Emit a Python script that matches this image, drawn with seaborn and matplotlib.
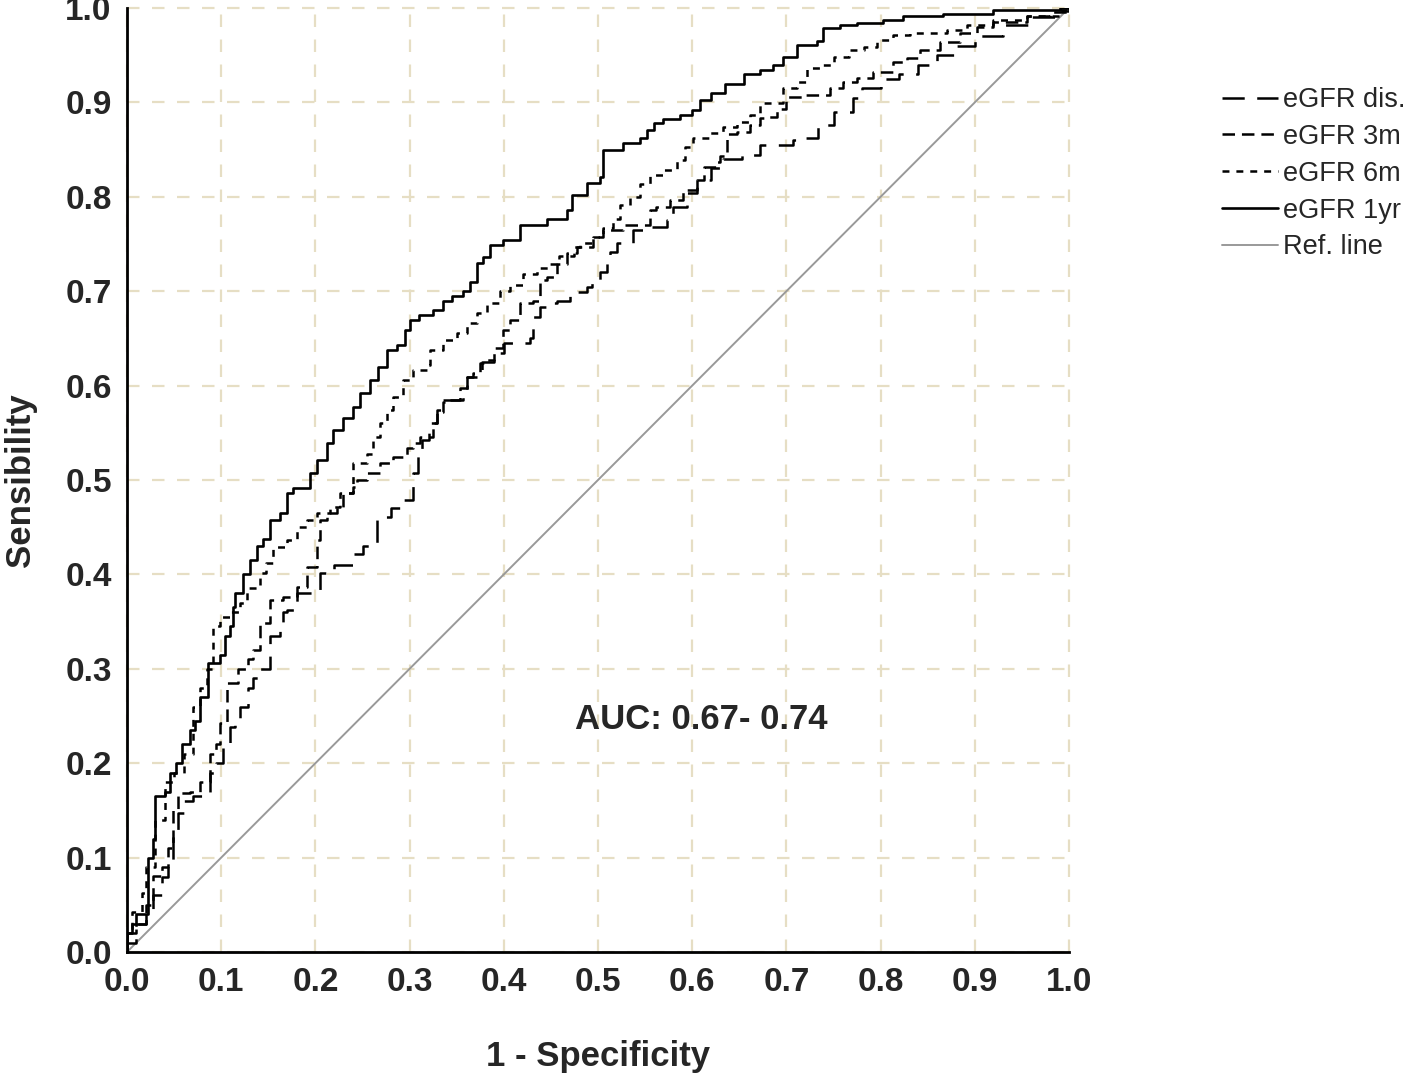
import numpy as np
import pandas as pd
import matplotlib
matplotlib.use("Agg")
import matplotlib.pyplot as plt
import seaborn as sns
from matplotlib.lines import Line2D

# ROC step points: (1 - specificity, sensitivity)
fpr_1yr = [0, 0, 0.005, 0.01, 0.02, 0.022, 0.028, 0.03, 0.04, 0.046, 0.052, 0.058, 0.067, 0.072, 0.077,
           0.086, 0.099, 0.104, 0.109, 0.112, 0.115, 0.123, 0.131, 0.138, 0.144, 0.152, 0.162, 0.17, 0.176,
           0.194, 0.202, 0.212, 0.219, 0.229, 0.24, 0.247, 0.258, 0.266, 0.276, 0.287, 0.295, 0.3, 0.31,
           0.325, 0.335, 0.345, 0.357, 0.364, 0.372, 0.378, 0.385, 0.399, 0.417, 0.446, 0.467, 0.472, 0.488,
           0.502, 0.505, 0.527, 0.545, 0.552, 0.559, 0.569, 0.587, 0.6, 0.608, 0.62, 0.635, 0.655, 0.672,
           0.686, 0.696, 0.711, 0.732, 0.739, 0.757, 0.775, 0.803, 0.824, 0.866, 0.919, 0.99, 1.0]
tpr_1yr = [0, 0.02, 0.03, 0.04, 0.04, 0.1, 0.12, 0.165, 0.17, 0.19, 0.2, 0.22, 0.235, 0.245, 0.27,
           0.306, 0.315, 0.335, 0.345, 0.365, 0.38, 0.4, 0.415, 0.43, 0.437, 0.458, 0.465, 0.486, 0.492,
           0.507, 0.521, 0.539, 0.553, 0.566, 0.577, 0.592, 0.606, 0.62, 0.638, 0.643, 0.659, 0.67, 0.675,
           0.68, 0.69, 0.695, 0.7, 0.71, 0.73, 0.736, 0.749, 0.754, 0.77, 0.777, 0.786, 0.802, 0.815,
           0.821, 0.85, 0.857, 0.862, 0.871, 0.878, 0.882, 0.887, 0.892, 0.903, 0.91, 0.92, 0.93, 0.934,
           0.94, 0.948, 0.961, 0.965, 0.979, 0.982, 0.984, 0.987, 0.992, 0.994, 0.998, 1.0, 1.0]

fpr_6m = [0, 0, 0.005, 0.016, 0.02, 0.03, 0.04, 0.05, 0.06, 0.07, 0.077, 0.085, 0.091, 0.099, 0.11,
          0.12, 0.127, 0.141, 0.148, 0.155, 0.17, 0.18, 0.191, 0.202, 0.215, 0.226, 0.24, 0.255, 0.261,
          0.269, 0.276, 0.282, 0.293, 0.304, 0.318, 0.322, 0.335, 0.35, 0.361, 0.372, 0.382, 0.396, 0.407,
          0.42, 0.435, 0.449, 0.459, 0.474, 0.481, 0.495, 0.505, 0.516, 0.523, 0.534, 0.545, 0.555, 0.569,
          0.584, 0.592, 0.601, 0.619, 0.633, 0.648, 0.661, 0.672, 0.696, 0.711, 0.722, 0.736, 0.75, 0.766,
          0.782, 0.796, 0.813, 0.831, 0.849, 0.87, 0.892, 0.919, 0.955, 0.99, 1.0]
tpr_6m = [0, 0.02, 0.042, 0.062, 0.09, 0.14, 0.18, 0.19, 0.21, 0.26, 0.28, 0.3, 0.345, 0.355, 0.36,
          0.37, 0.386, 0.401, 0.412, 0.429, 0.436, 0.45, 0.458, 0.465, 0.471, 0.486, 0.518, 0.528, 0.546,
          0.56, 0.574, 0.588, 0.606, 0.617, 0.622, 0.638, 0.648, 0.656, 0.666, 0.677, 0.687, 0.7, 0.707,
          0.718, 0.725, 0.729, 0.737, 0.747, 0.751, 0.757, 0.767, 0.777, 0.791, 0.8, 0.814, 0.823, 0.828,
          0.839, 0.853, 0.862, 0.868, 0.874, 0.879, 0.887, 0.899, 0.915, 0.922, 0.936, 0.94, 0.948, 0.955,
          0.959, 0.966, 0.971, 0.973, 0.974, 0.977, 0.982, 0.987, 0.992, 0.998, 1.0]

fpr_3m = [0, 0, 0.01, 0.02, 0.028, 0.037, 0.044, 0.049, 0.054, 0.067, 0.077, 0.088, 0.095, 0.099, 0.106,
          0.118, 0.128, 0.134, 0.141, 0.152, 0.166, 0.18, 0.191, 0.202, 0.205, 0.212, 0.223, 0.229, 0.24,
          0.244, 0.255, 0.269, 0.282, 0.297, 0.304, 0.311, 0.325, 0.329, 0.335, 0.343, 0.354, 0.361, 0.367,
          0.375, 0.382, 0.39, 0.399, 0.407, 0.417, 0.431, 0.438, 0.446, 0.456, 0.467, 0.478, 0.495, 0.505,
          0.527, 0.555, 0.562, 0.576, 0.59, 0.605, 0.612, 0.626, 0.63, 0.637, 0.648, 0.661, 0.672, 0.679,
          0.69, 0.7, 0.72, 0.746, 0.76, 0.775, 0.792, 0.813, 0.828, 0.842, 0.863, 0.884, 0.902, 0.919,
          0.955, 0.98, 1.0]
tpr_3m = [0, 0.02, 0.03, 0.05, 0.08, 0.09, 0.11, 0.15, 0.168, 0.17, 0.18, 0.21, 0.22, 0.243, 0.285,
          0.3, 0.31, 0.32, 0.348, 0.373, 0.376, 0.387, 0.408, 0.436, 0.458, 0.465, 0.471, 0.486, 0.493,
          0.5, 0.507, 0.518, 0.524, 0.534, 0.539, 0.546, 0.56, 0.572, 0.583, 0.585, 0.597, 0.609, 0.613,
          0.624, 0.627, 0.64, 0.659, 0.669, 0.687, 0.69, 0.712, 0.715, 0.729, 0.74, 0.747, 0.757, 0.765,
          0.77, 0.786, 0.789, 0.797, 0.807, 0.818, 0.832, 0.837, 0.843, 0.867, 0.869, 0.876, 0.883, 0.885,
          0.893, 0.906, 0.908, 0.915, 0.922, 0.926, 0.932, 0.943, 0.947, 0.955, 0.964, 0.973, 0.98, 0.985,
          0.992, 0.996, 1.0]

fpr_dis = [0, 0, 0.01, 0.02, 0.028, 0.037, 0.044, 0.049, 0.054, 0.06, 0.07, 0.08, 0.088, 0.095, 0.102,
           0.109, 0.115, 0.12, 0.128, 0.134, 0.14, 0.152, 0.162, 0.166, 0.17, 0.18, 0.2, 0.205, 0.22, 0.24,
           0.25, 0.265, 0.28, 0.293, 0.304, 0.309, 0.313, 0.321, 0.329, 0.335, 0.346, 0.357, 0.361, 0.377,
           0.39, 0.4, 0.415, 0.428, 0.431, 0.438, 0.446, 0.456, 0.47, 0.488, 0.494, 0.502, 0.51, 0.513, 0.52,
           0.537, 0.553, 0.573, 0.58, 0.594, 0.605, 0.62, 0.633, 0.653, 0.672, 0.707, 0.718, 0.734, 0.75,
           0.771, 0.78, 0.8, 0.82, 0.84, 0.86, 0.88, 0.9, 0.93, 0.96, 0.99, 1.0]
tpr_dis = [0, 0.01, 0.03, 0.04, 0.06, 0.079, 0.094, 0.126, 0.147, 0.16, 0.165, 0.17, 0.19, 0.2, 0.22,
           0.238, 0.245, 0.26, 0.28, 0.29, 0.3, 0.335, 0.341, 0.36, 0.362, 0.38, 0.382, 0.401, 0.41, 0.422,
           0.43, 0.461, 0.47, 0.479, 0.507, 0.53, 0.542, 0.56, 0.574, 0.585, 0.585, 0.595, 0.609, 0.625,
           0.635, 0.645, 0.645, 0.65, 0.673, 0.683, 0.687, 0.69, 0.699, 0.704, 0.712, 0.72, 0.733, 0.742, 0.751,
           0.765, 0.768, 0.775, 0.789, 0.804, 0.818, 0.83, 0.84, 0.844, 0.855, 0.86, 0.862, 0.876, 0.89,
           0.905, 0.915, 0.925, 0.93, 0.94, 0.95, 0.96, 0.97, 0.982, 0.99, 0.997, 1.0]

ref_x = [0, 1]
ref_y = [0, 1]

series_names = ["eGFR dis.", "eGFR 3m", "eGFR 6m", "eGFR 1yr", "Ref. line"]
ticks = [0.0, 0.1, 0.2, 0.3, 0.4, 0.5, 0.6, 0.7, 0.8, 0.9, 1.0]
auc_text = "AUC: 0.67- 0.74"

sns.set_style("white")
plt.rcParams["font.family"] = ["Liberation Sans", "DejaVu Sans"]
plt.rcParams["lines.scale_dashes"] = False

fig = plt.figure(figsize=(14.18, 10.78), dpi=100)
ax = fig.add_axes([127 / 1418, 1 - 952 / 1078, 942 / 1418, 944 / 1078])

grid_col = "#e6dec4"
for t in ticks:
    ax.axvline(t, color=grid_col, lw=1.6, ls=(0, (9, 9)), zorder=0, clip_on=False)
    ax.axhline(t, color=grid_col, lw=1.6, ls=(0, (9, 9)), zorder=0, clip_on=False)

styles = {
    "eGFR dis.": dict(ls=(0, (16, 9)), lw=1.8, color="black"),
    "eGFR 3m": dict(ls=(0, (9, 5)), lw=1.8, color="black"),
    "eGFR 6m": dict(ls=(0, (5, 5)), lw=1.8, color="black"),
    "eGFR 1yr": dict(ls="-", lw=1.9, color="black"),
    "Ref. line": dict(ls="-", lw=1.4, color="#999999"),
}

curves = {
    "eGFR dis.": (fpr_dis, tpr_dis),
    "eGFR 3m": (fpr_3m, tpr_3m),
    "eGFR 6m": (fpr_6m, tpr_6m),
    "eGFR 1yr": (fpr_1yr, tpr_1yr),
}

sns.lineplot(x=ref_x, y=ref_y, ax=ax, estimator=None, zorder=2, **styles["Ref. line"])
for name, (fx, ty) in curves.items():
    df = pd.DataFrame({"fpr": fx, "tpr": ty})
    sns.lineplot(data=df, x="fpr", y="tpr", ax=ax, estimator=None, sort=False,
                 drawstyle="steps-post", zorder=3, **styles[name])

ax.set_xlim(0, 1)
ax.set_ylim(0, 1)
ax.set_xticks(ticks)
ax.set_yticks(ticks)
ax.set_xticklabels([f"{t:.1f}" for t in ticks], fontsize=24, fontweight="bold")
ax.set_yticklabels([f"{t:.1f}" for t in ticks], fontsize=24, fontweight="bold")
ax.tick_params(length=0, pad=11)
for s in ["top", "right"]:
    ax.spines[s].set_visible(False)
for s in ["left", "bottom"]:
    ax.spines[s].set_color("black")
    ax.spines[s].set_linewidth(2)
    ax.spines[s].set_zorder(4)

ax.set_xlabel("1 - Specificity", fontsize=25, fontweight="bold", labelpad=30)
ax.set_ylabel("Sensibility", fontsize=25, fontweight="bold", labelpad=20)

ax.text(0.61, 0.246, auc_text, ha="center", va="center", fontsize=25, fontweight="bold")

handles = [Line2D([], [], **styles[n]) for n in series_names]
fig.legend(handles, series_names, loc="upper left", bbox_to_anchor=(1222 / 1418, 1 - 87 / 1078),
           frameon=False, borderpad=0, borderaxespad=0, fontsize=19.5, handlelength=2.05,
           handletextpad=0.2, labelspacing=0.4)

fig.savefig("out.png", dpi=100)
